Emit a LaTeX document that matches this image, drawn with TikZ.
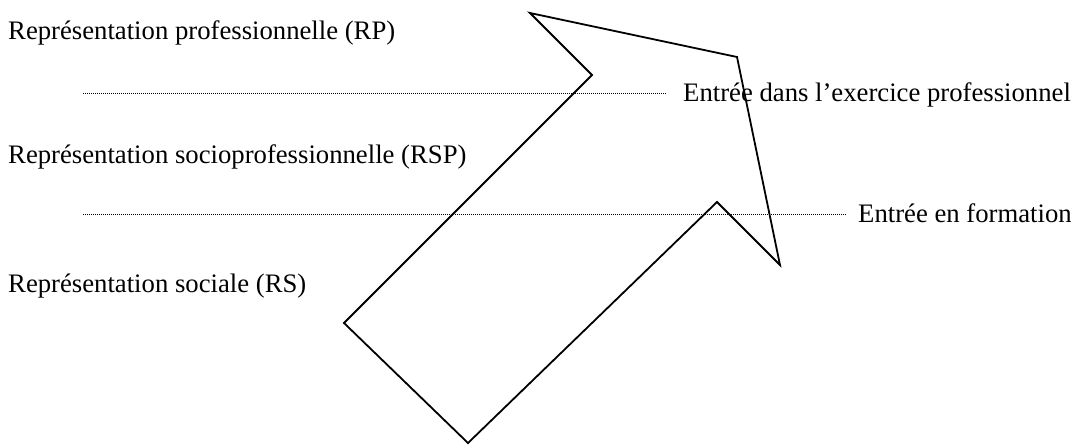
\documentclass[tikz,border=0pt]{standalone}
\usepackage{fontspec}
\setmainfont{Liberation Serif}
\begin{document}
\begin{tikzpicture}[x=1pt,y=-1pt,
  lbl/.style={inner sep=0pt,anchor=base west,font=\fontsize{26.7}{30}\selectfont},
  dotline/.style={line width=0.9pt,dash pattern=on 1pt off 1pt},
  bigarrow/.style={line width=1.8pt,line join=miter}]
\useasboundingbox (0,0) rectangle (1071,445);
\node[lbl] (rp) at (8,39) {Représentation professionnelle (RP)};
\node[lbl] (rsp) at (8,163) {Représentation socioprofessionnelle (RSP)};
\node[lbl] (rs) at (8,292) {Représentation sociale (RS)};
\node[lbl] (e1) at (683,101) {Entrée dans l’exercice professionnel};
\node[lbl] (e2) at (858,222) {Entrée en formation};
\coordinate (s1) at (83,93);
\coordinate (s2) at (83,214);
\draw[dotline,shorten >=16pt] (s1) -- (s1 -| e1.west);
\draw[dotline,shorten >=12pt] (s2) -- (s2 -| e2.west);
\draw[bigarrow] (530,13) -- (737,57) -- (780,265) -- (717,202) -- (468,443) -- (344,323) -- (592,75) -- cycle;
\end{tikzpicture}
\end{document}
